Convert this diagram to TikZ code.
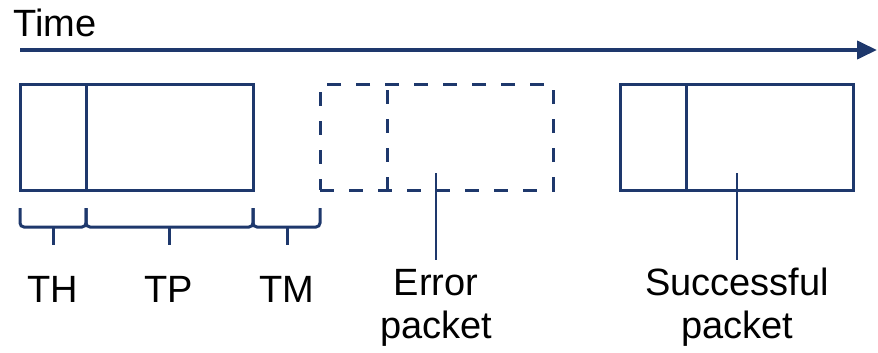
\documentclass[tikz,border=0pt]{standalone}
\usepackage{fontspec}
\setmainfont{Liberation Sans}
\usetikzlibrary{positioning,arrows.meta}
\definecolor{navy}{RGB}{30,56,108}

\begin{document}
\begin{tikzpicture}[x=1pt,y=-1pt,
    seg/.style={draw=navy,line width=3pt,minimum height=106pt,inner sep=0pt,outer sep=0pt},
    lost/.style={seg,dash pattern=on 14pt off 15pt},
    brace/.style={draw=navy,line width=3pt,rounded corners=4pt},
    lbl/.style={font=\fontsize{38}{43}\selectfont,inner sep=0pt,align=center}]
\useasboundingbox (0,0) rectangle (878,353);
% time axis
\node[lbl,anchor=base west] (time) at (13,37) {Time};
\coordinate (t0) at (20,50);
\coordinate (t1) at (877,50);
\draw[navy,line width=4pt,-{Triangle[length=20pt,width=18pt]}] (t0) -- (t1);
% packets
\node[seg,minimum width=66pt,anchor=north west] (h1) at (20,84) {};
\node[seg,minimum width=167pt,right=0pt of h1] (p1) {};
\node[lost,minimum width=233pt,anchor=north west] (p2) at (320,84) {};
\draw[navy,line width=3pt,dash pattern=on 14pt off 15pt,dash phase=-6pt]
    ([xshift=67pt]p2.north west) -- ([xshift=67pt]p2.south west);
\node[seg,minimum width=66pt,anchor=north west] (h3) at (620,84) {};
\node[seg,minimum width=167pt,right=0pt of h3] (p3) {};
% durations
\node[lbl,anchor=base] (th) at (53,302) {TH};
\node[lbl,anchor=base] (tp) at (169,302) {TP};
\node[lbl,anchor=base] (tm) at (287,302) {TM};
\foreach \a/\b/\m in {20/86/53, 86/253/169, 253/320/287}
    {\draw[brace] (\a,208) -- (\a,227) -- (\b,227) -- (\b,208);
    \draw[navy,line width=3pt] (\m,227) -- (\m,245);}
% packet labels
\node[lbl,anchor=north] (err) at (436,269) {Error\\packet};
\node[lbl,anchor=north] (ok) at (737,268) {Successful\\packet};
\draw[navy,line width=2.5pt] (436,173) -- ([yshift=9pt]err.north);
\draw[navy,line width=2.5pt] (737,173) -- ([yshift=8pt]ok.north);
\end{tikzpicture}
\end{document}
